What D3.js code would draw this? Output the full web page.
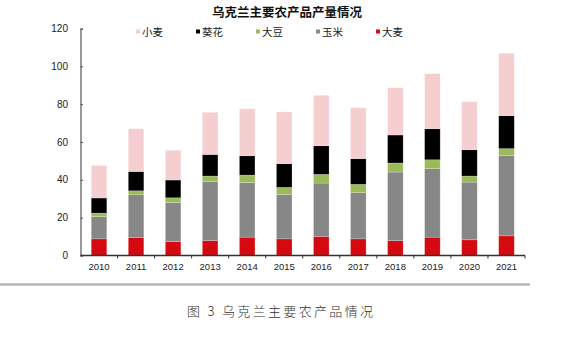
<!DOCTYPE html>
<html><head><meta charset="utf-8">
<script src="https://cdn.jsdelivr.net/npm/d3@7"></script>
<style>body{margin:0;background:#fff}svg{display:block}</style>
</head><body>
<svg id="c" width="568" height="342"></svg>
<script>
const years = ["2010","2011","2012","2013","2014","2015","2016","2017","2018","2019","2020","2021"];
const barley    = [8.8, 9.4, 7.4, 7.9, 9.7, 8.8, 10.1, 8.8, 7.9, 9.7, 8.3, 10.4];
const corn      = [11.8, 22.7, 20.6, 31.1, 28.9, 23.5, 28.2, 24.4, 36.2, 36.2, 30.5, 42.5];
const soybean   = [1.8, 2.1, 2.5, 3.0, 3.9, 3.7, 4.6, 4.4, 4.8, 4.7, 3.2, 3.6];
const sunflower = [8.0, 10.2, 9.4, 11.4, 10.2, 12.5, 15.1, 13.6, 14.8, 16.4, 13.9, 17.4];
const wheat     = [17.2, 22.6, 15.7, 22.3, 24.8, 27.4, 26.7, 26.9, 25.0, 29.1, 25.4, 33.0];
const yTicks = [0, 20, 40, 60, 80, 100, 120];
const seriesNames = ["大麦","玉米","大豆","葵花","小麦"];
const legendOrder = ["小麦","葵花","大豆","玉米","大麦"];
const colors = {"大麦":"#d40a10","玉米":"#878787","大豆":"#9bbb59","葵花":"#000000","小麦":"#f5ced0"};
const title = "乌克兰主要农产品产量情况";
const caption = "图 3 乌克兰主要农产品情况";

const seriesData = {"大麦":barley,"玉米":corn,"大豆":soybean,"葵花":sunflower,"小麦":wheat};
const rows = years.map((y,i)=>{const r={year:y}; seriesNames.forEach(s=>r[s]=seriesData[s][i]); return r;});
const stack = d3.stack().keys(seriesNames)(rows);

const svg = d3.select("#c");
const x = d3.scaleBand().domain(years).range([80.5, 525]).paddingInner(0.58).paddingOuter(0.29);
const y = d3.scaleLinear().domain([0,120]).range([255.5, 28.5]);
const font = "Arial, 'Liberation Sans', 'Noto Sans CJK SC', sans-serif";

svg.append("text").attr("x",287).attr("y",17).attr("text-anchor","middle")
  .attr("font-family","'Noto Sans CJK SC', sans-serif").attr("font-weight","bold")
  .attr("font-size",12.5).attr("fill","#111").text(title);

// bars
svg.append("g").selectAll("g").data(stack).join("g")
  .attr("fill",d=>colors[d.key])
  .selectAll("rect").data(d=>d).join("rect")
  .attr("x",d=>x(d.data.year)).attr("width",x.bandwidth())
  .attr("y",d=>y(d[1])).attr("height",d=>y(d[0])-y(d[1]))
  .attr("stroke","#ffffff").attr("stroke-opacity",0.35).attr("stroke-width",0.6);

// y axis
const yAxis = d3.axisRight(y).tickValues(yTicks).tickSize(2.5).tickFormat("");
const ga = svg.append("g").attr("transform","translate(80.5,0)").call(yAxis);
ga.select(".domain").attr("stroke","#555").attr("stroke-width",1.2);
ga.selectAll(".tick line").attr("stroke","#555");
svg.append("g").selectAll("text").data(yTicks).join("text")
  .attr("x",68).attr("y",d=>y(d)+3.5).attr("text-anchor","end")
  .attr("font-family",font).attr("font-size",10).attr("fill","#222").text(d=>d);

// x axis
const step = x.step();
const edges = d3.range(years.length+1).map(i=>80.5 + i*(525-80.5)/years.length);
const gx = svg.append("g");
gx.append("line").attr("x1",80.5).attr("x2",525).attr("y1",255.5).attr("y2",255.5)
  .attr("stroke","#333").attr("stroke-width",1.3);
gx.selectAll("line.t").data(edges.slice(1)).join("line").attr("class","t")
  .attr("x1",d=>d).attr("x2",d=>d).attr("y1",255.5).attr("y2",258.5).attr("stroke","#333");
gx.selectAll("text").data(years).join("text")
  .attr("x",d=>x(d)+x.bandwidth()/2).attr("y",269.5).attr("text-anchor","middle")
  .attr("font-family",font).attr("font-size",9.5).attr("fill","#222").text(d=>d);

// legend
const lg = svg.append("g").selectAll("g").data(legendOrder).join("g")
  .attr("transform",(d,i)=>`translate(${136 + i*60},31.5)`);
lg.append("rect").attr("x",0).attr("y",-2).attr("width",4).attr("height",4).attr("fill",d=>colors[d]);
lg.append("text").attr("x",6).attr("y",4).attr("font-family","'Noto Sans CJK SC', sans-serif")
  .attr("font-size",10.5).attr("fill","#222").text(d=>d);

// separator
svg.append("rect").attr("x",0).attr("y",283.3).attr("width",530).attr("height",2.4).attr("fill","#b4b4b4");

// caption
svg.append("text").attr("x",187).attr("y",315.5)
  .attr("font-family","'Noto Sans CJK SC', sans-serif").attr("font-weight",300)
  .attr("font-size",13).attr("fill","#333").attr("textLength",186).attr("lengthAdjust","spacing")
  .text(caption);
</script>
</body></html>
